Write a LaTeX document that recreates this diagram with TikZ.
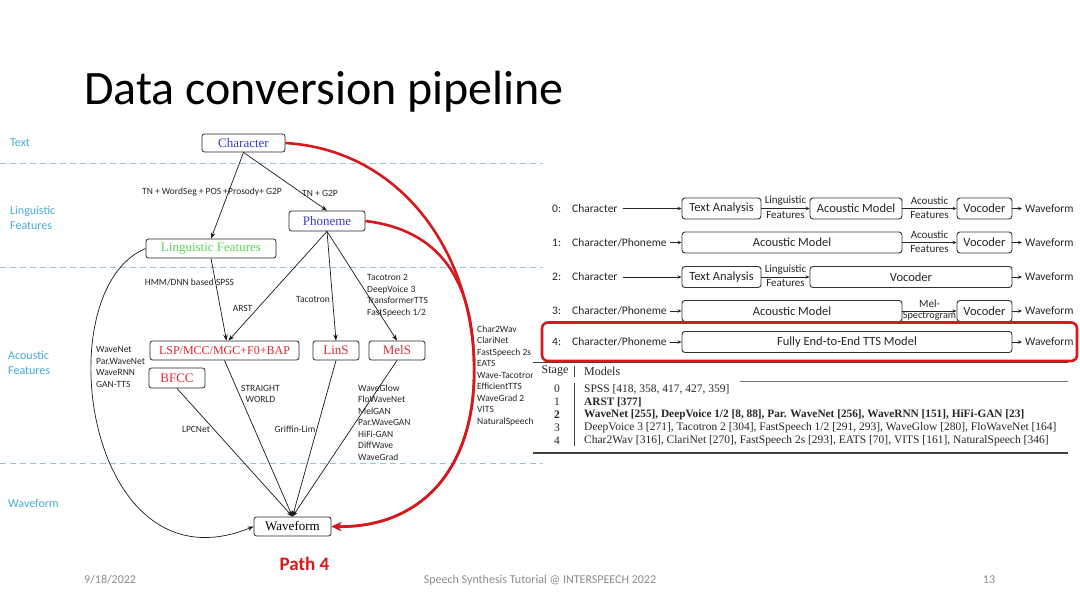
\documentclass[tikz,border=0pt]{standalone}
\usepackage{fontspec}
\setmainfont{Liberation Serif}
\newfontfamily\carl{Carlito}
\usetikzlibrary{arrows.meta,calc}
\definecolor{cyanlbl}{RGB}{70,172,210}
\definecolor{dashc}{RGB}{140,200,225}
\definecolor{nblue}{RGB}{60,60,200}
\definecolor{ngreen}{RGB}{90,215,90}
\definecolor{nred}{RGB}{220,40,50}
\definecolor{pred}{RGB}{215,25,30}
\definecolor{foot}{RGB}{140,140,140}
\tikzset{
  lbox/.style={draw=black!85, line width=0.8pt, rounded corners=2.5pt, inner sep=0pt, font=\fontsize{13}{13}\selectfont},
  side/.style={text=cyanlbl, font=\carl\fontsize{12}{15.5}\selectfont, align=left, anchor=west, inner sep=0pt},
  small/.style={font=\carl\fontsize{9.5}{11.5}\selectfont, align=left, inner sep=0pt, text=black!85},
  arr/.style={-{Stealth[length=6pt,width=4.5pt]}, line width=0.7pt, black!90},
  redarr/.style={-{Stealth[length=10pt,width=9pt]}, line width=2.6pt, draw=pred},
  dline/.style={draw=dashc, dash pattern=on 6pt off 4pt, line width=0.8pt},
  rbox/.style={draw=black!80, line width=0.9pt, rounded corners=3pt, minimum height=21pt, inner sep=0pt, font=\carl\fontsize{12.5}{12.5}\selectfont, text=black!85},
  rl/.style={inner sep=0pt, font=\carl\fontsize{11.5}{12}\selectfont, text=black!85},
  rarr/.style={-{Stealth[length=4pt,width=3.5pt]}, line width=0.7pt, black!85},
  lab/.style={font=\carl\fontsize{11}{11}\selectfont, inner sep=0pt, text=black!85},
  tb/.style={inner sep=0pt, anchor=west, font=\fontsize{11.5}{12}\selectfont, text=black!85},
  tbb/.style={tb, font=\bfseries\fontsize{11.3}{12}\selectfont},
  tn/.style={inner sep=0pt, font=\fontsize{11.5}{12}\selectfont, text=black!85},
  footst/.style={inner sep=0pt, font=\carl\fontsize{12}{12}\selectfont, text=foot}
}
\begin{document}
\begin{tikzpicture}[x=1pt,y=-1pt]
\useasboundingbox[fill=white] (0,0) rectangle (1080,608);

% title
\node[anchor=base west, inner sep=0pt, font=\carl\fontsize{48}{50}\selectfont] (title) at (84,104) {Data conversion pipeline};

% dashed separators
\foreach \yy in {163.5,267.5,463.5} \draw[dline] (0,\yy) -- (543,\yy);

% side labels
\node[side] (sText) at (10,143) {Text};
\node[side] (sLing) at (10,218) {Linguistic\\Features};
\node[side] (sAc) at (8,363) {Acoustic\\Features};
\node[side] (sWav) at (8,503) {Waveform};

% left nodes
\node[lbox, minimum width=83pt, minimum height=18pt, text=nblue] (char) at (243.5,143) {Character};
\node[lbox, minimum width=76pt, minimum height=20pt, text=nblue] (pho) at (327,221) {Phoneme};
\node[lbox, minimum width=130pt, minimum height=19pt, text=ngreen] (lf) at (211,248.5) {Linguistic Features};
\node[lbox, minimum width=149pt, minimum height=19pt, text=nred, font=\fontsize{12}{12}\selectfont] (lsp) at (224.5,350.5) {LSP/MCC/MGC+F0+BAP};
\node[lbox, minimum width=56pt, minimum height=20pt, text=nred] (bfcc) at (177,378) {BFCC};
\node[lbox, minimum width=46pt, minimum height=19pt, text=nred] (lins) at (336,350.5) {LinS};
\node[lbox, minimum width=56pt, minimum height=19pt, text=nred] (mels) at (397,350.5) {MelS};
\node[lbox, minimum width=77pt, minimum height=19pt, text=black] (wave) at (292.5,526.5) {Waveform};

% edge labels
\node[small] (l1) at (212,192) {TN + WordSeg + POS +Prosody+ G2P};
\node[small] (l2) at (320,193) {TN + G2P};
\node[small] (l3) at (189.5,282) {HMM/DNN based SPSS};
\node[small] (l4) at (242.5,308) {ARST};
\node[small] (l5) at (313,299) {Tacotron};
\node[small, anchor=north west] (l6) at (367,274.5) {Tacotron 2\\DeepVoice 3\\TransformerTTS\\FastSpeech 1/2};
\node[small, anchor=north west] (l7) at (96,346.5) {WaveNet\\Par.WaveNet\\WaveRNN\\GAN-TTS};
\node[small, anchor=north, align=center] (l8) at (260.5,385) {STRAIGHT\\WORLD};
\node[small] (l9) at (196,429) {LPCNet};
\node[small] (l10) at (295,429) {Griffin-Lim};
\node[small, anchor=north west] (l11) at (358,384.5) {WaveGlow\\FloWaveNet\\MelGAN\\Par.WaveGAN\\HiFi-GAN\\DiffWave\\WaveGrad};
\begin{scope}
\clip (470,318) rectangle (532,430);
\node[small, anchor=north west] (l12) at (477,325.5) {Char2Wav\\ClariNet\\FastSpeech 2s\\EATS\\Wave-Tacotron\\EfficientTTS\\WaveGrad 2\\VITS\\NaturalSpeech};
\end{scope}

% black edges
\draw[arr] (char.south) -- (lf.north);
\draw[arr] (char.south) -- (pho.north);
\draw[arr] (lf.south) -- ($(lsp.north)+(2,0)$);
\draw[arr] (pho.south) -- ($(lsp.north)+(4,0)$);
\draw[arr] (pho.south) -- (lins.north);
\draw[arr] (pho.south) -- (mels.north);
\draw[arr] (lsp.south) -- (wave.north);
\draw[arr] (bfcc.south) -- (wave.north);
\draw[arr] (lins.south) -- (wave.north);
\draw[arr] (mels.south) -- (wave.north);
\draw[arr] (lf.west) .. controls (45,290) and (85,595) .. (wave.west);

% red edges
\draw[redarr] (char.east) .. controls (400,150) and (470,250) .. (474,360) .. controls (478,470) and (420,528) .. (wave.east);
\draw[redarr] (pho.east) .. controls (440,230) and (472,280) .. (474,360) .. controls (478,470) and (420,528) .. (wave.east);

% Path 4
\node[inner sep=0pt, font=\carl\bfseries\fontsize{19}{19}\selectfont, text=pred] (path4) at (304.5,564) {Path 4};

% ---------- right pipeline ----------
% row 0
\node[rl, anchor=west] (n0) at (552,208.5) {0:};
\node[rl, anchor=west] (c0) at (572,208.5) {Character};
\node[rbox, minimum width=79pt] (ta0) at (721.5,208.5) {Text Analysis};
\node[rbox, minimum width=92pt] (am0) at (856,208.5) {Acoustic Model};
\node[rbox, minimum width=55pt] (vo0) at (984.5,208.5) {Vocoder};
\node[rl, anchor=west] (w0) at (1025,208.5) {Waveform};
\draw[rarr] ($(c0.east)+(5,0)$) -- (ta0.west);
\draw[rarr] (ta0.east) -- (am0.west);
\draw[rarr] (am0.east) -- (vo0.west);
\draw[rarr] (vo0.east) -- ($(w0.west)+(-3,0)$);
\node[lab] (f0a) at ($(ta0.east)!0.5!(am0.west)+(0,-7.5)$) {Linguistic};
\node[lab] (f0b) at ($(ta0.east)!0.5!(am0.west)+(0,6.5)$) {Features};
\node[lab] (g0a) at ($(am0.east)!0.5!(vo0.west)+(0,-7.5)$) {Acoustic};
\node[lab] (g0b) at ($(am0.east)!0.5!(vo0.west)+(0,6.5)$) {Features};

% row 1
\node[rl, anchor=west] (n1) at (552,242.5) {1:};
\node[rl, anchor=west] (c1) at (572,242.5) {Character/Phoneme};
\node[rbox, minimum width=220pt] (am1) at (792,242.5) {Acoustic Model};
\node[rbox, minimum width=55pt] (vo1) at (984.5,242.5) {Vocoder};
\node[rl, anchor=west] (w1) at (1025,242.5) {Waveform};
\draw[rarr] ($(c1.east)+(3,0)$) -- (am1.west);
\draw[rarr] (am1.east) -- (vo1.west);
\draw[rarr] (vo1.east) -- ($(w1.west)+(-3,0)$);
\node[lab] (g1a) at ($(am1.east)!0.5!(vo1.west)+(0,-7.5)$) {Acoustic};
\node[lab] (g1b) at ($(am1.east)!0.5!(vo1.west)+(0,6.5)$) {Features};

% row 2
\node[rl, anchor=west] (n2) at (552,277) {2:};
\node[rl, anchor=west] (c2) at (572,277) {Character};
\node[rbox, minimum width=79pt] (ta2) at (721.5,277) {Text Analysis};
\node[rbox, minimum width=202pt] (vo2) at (911,277) {Vocoder};
\node[rl, anchor=west] (w2) at (1025,277) {Waveform};
\draw[rarr] ($(c2.east)+(5,0)$) -- (ta2.west);
\draw[rarr] (ta2.east) -- (vo2.west);
\draw[rarr] (vo2.east) -- ($(w2.west)+(-3,0)$);
\node[lab] (f2a) at ($(ta2.east)!0.5!(vo2.west)+(0,-7.5)$) {Linguistic};
\node[lab] (f2b) at ($(ta2.east)!0.5!(vo2.west)+(0,6.5)$) {Features};

% row 3
\node[rl, anchor=west] (n3) at (552,311) {3:};
\node[rl, anchor=west] (c3) at (572,311) {Character/Phoneme};
\node[rbox, minimum width=220pt] (am3) at (792,311) {Acoustic Model};
\node[rbox, minimum width=55pt] (vo3) at (984.5,311) {Vocoder};
\node[rl, anchor=west] (w3) at (1025,311) {Waveform};
\draw[rarr] ($(c3.east)+(3,0)$) -- (am3.west);
\draw[rarr] (am3.east) -- (vo3.west);
\draw[rarr] (vo3.east) -- ($(w3.west)+(-3,0)$);
\node[lab] (m3a) at ($(am3.east)!0.5!(vo3.west)+(0,-7.5)$) {Mel-};
\node[lab, font=\carl\fontsize{10.3}{10.3}\selectfont] (m3b) at ($(am3.east)!0.5!(vo3.west)+(0,5.5)$) {Spectrogram};

% row 4
\node[rl, anchor=west] (n4) at (552,342) {4:};
\node[rl, anchor=west] (c4) at (572,342) {Character/Phoneme};
\node[rbox, minimum width=330pt] (ft4) at (847,342) {Fully End-to-End TTS Model};
\node[rl, anchor=west] (w4) at (1025,342) {Waveform};
\draw[rarr] ($(c4.east)+(3,0)$) -- (ft4.west);
\draw[rarr] (ft4.east) -- ($(w4.west)+(-3,0)$);

% table
\draw[line width=0.9pt, black!75] (533,362) -- (1068,362);
\draw[draw=pred, line width=2.6pt, rounded corners=6pt] (542,322.5) rectangle (1077,361);
\draw[line width=0.6pt, black!55] (740,381) -- (1068,381);
\draw[line width=1.2pt, black!75] (533,453) -- (1068,453);
\draw[line width=0.6pt, black!75] (574.5,366) -- (574.5,377);
\draw[line width=0.6pt, black!75] (574.5,383) -- (574.5,446);
\node[tn, font=\fontsize{12}{12}\selectfont] (hs) at (555,371) {Stage};
\node[tb, font=\fontsize{12}{12}\selectfont] (hm) at (584,371) {Models};
\node[tn] (s0) at (557,389) {0};
\node[tn] (s1) at (557,402) {1};
\node[tn, font=\bfseries\fontsize{11.5}{12}\selectfont] (s2) at (557,415) {2};
\node[tn] (s3) at (557,428) {3};
\node[tn] (s4) at (557,441) {4};
\node[tb] (r0) at (584,389) {SPSS [418, 358, 417, 427, 359]};
\node[tbb] (r1) at (584,402) {ARST [377]};
\node[tbb] (r2) at (584,415) {WaveNet [255], DeepVoice 1/2 [8, 88], Par. WaveNet [256], WaveRNN [151], HiFi-GAN [23]};
\node[tb] (r3) at (584,428) {DeepVoice 3 [271], Tacotron 2 [304], FastSpeech 1/2 [291, 293], WaveGlow [280], FloWaveNet [164]};
\node[tb] (r4) at (584,441) {Char2Wav [316], ClariNet [270], FastSpeech 2s [293], EATS [70], VITS [161], NaturalSpeech [346]};

% footer
\node[footst, anchor=west] (date) at (84,580) {9/18/2022};
\node[footst] (conf) at (540,580) {Speech Synthesis Tutorial @ INTERSPEECH 2022};
\node[footst] (pg) at (989,580) {13};
\end{tikzpicture}
\end{document}
